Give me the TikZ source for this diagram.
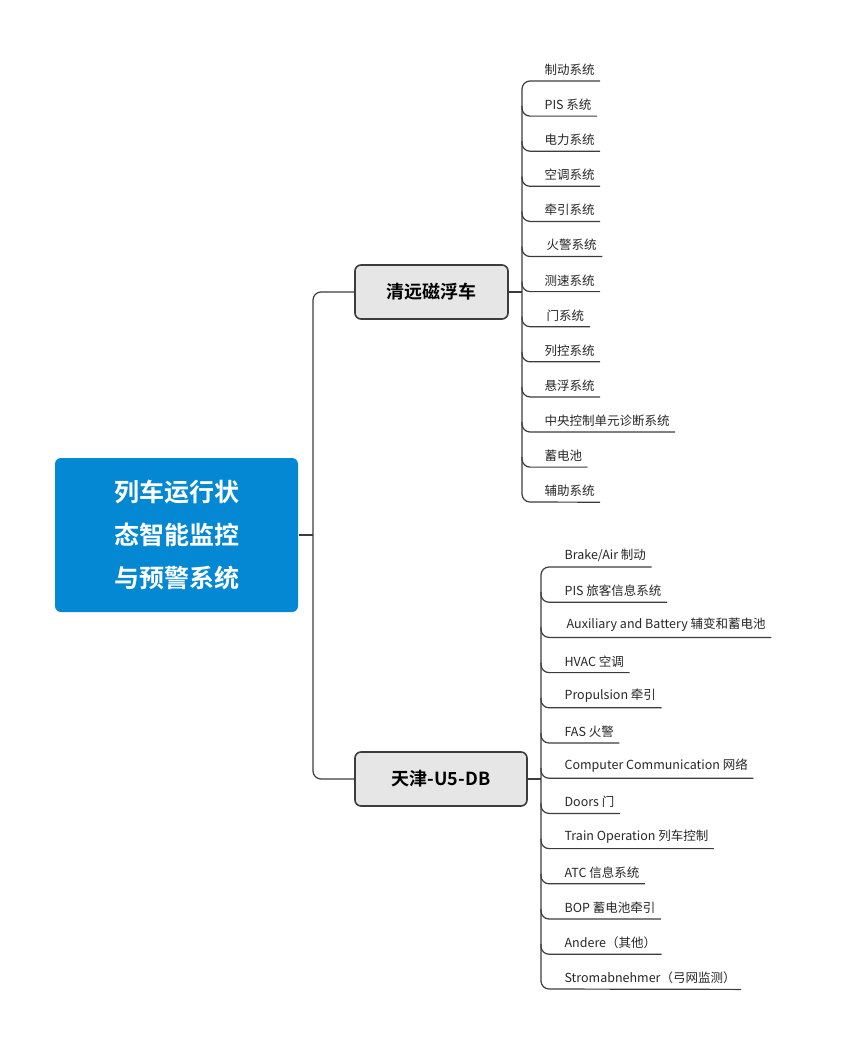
\documentclass[tikz,border=0pt]{standalone}
\usepackage{fontspec}
\setmainfont{Noto Sans CJK SC}[BoldFont=Noto Sans CJK SC Bold]
\usetikzlibrary{calc}
\definecolor{rootblue}{RGB}{4,136,212}
\definecolor{branchgray}{RGB}{230,230,230}
\definecolor{linegray}{RGB}{60,60,60}
\begin{document}
\begin{tikzpicture}[x=1pt,y=-1pt,line width=1.2pt,
  root/.style={rectangle,rounded corners=6,fill=rootblue,text=white,font=\fontsize{25}{43}\selectfont\bfseries,
    align=center,minimum width=243,minimum height=154},
  branch/.style={rectangle,rounded corners=6,draw=linegray,line width=1.6pt,fill=branchgray,
    font=\fontsize{18}{20}\selectfont\bfseries,minimum height=54,inner xsep=10},
  leaf/.style={anchor=south west,inner xsep=0,inner ysep=5,font=\fontsize{12.5}{14}\selectfont,text=black!85},
  conn/.style={draw=linegray,line width=1.2pt,rounded corners=8}]

\useasboundingbox (0,0) rectangle (866,1045);

%
% Root and branches
%
\node[root] (root) at (176.5,535) {列车运行状\\态智能监控\\与预警系统};
\node[branch,minimum width=153] (qy) at (431.5,292) {清远磁浮车};
\node[branch,minimum width=172] (tj) at (441,779) {天津-U5-DB};

\coordinate (hub) at (313,535);
\draw[conn] (root.east) -- (hub);
\draw[conn] (hub) |- (qy.west);
\draw[conn] (hub) |- (tj.west);

%
% Leaves of the first branch
%
\foreach \t [count=\i] in {制动系统,PIS 系统,电力系统,空调系统,牵引系统,\,火警系统,测速系统,\,门系统,列控系统,悬浮系统,中央控制单元诊断系统,蓄电池,辅助系统}
  \node[leaf] (a\i) at (544,{81+35.1*(\i-1)}) {\t};
\draw[conn] ($(a1.south east)+(5,0)$) -- (522,81) -- (522,502) -- ($(a13.south east)+(5,0)$);
\foreach \i in {2,...,12}
  \draw[conn] (522,{81+35.1*(\i-1)-10}) -- (522,{81+35.1*(\i-1)}) -- ($(a\i.south east)+(5,0)$);
\draw[conn] (qy.east) -- (522,292);

%
% Leaves of the second branch
%
\foreach \t [count=\i] in {Brake/Air 制动,PIS 旅客信息系统,\,Auxiliary and Battery 辅变和蓄电池,HVAC 空调,Propulsion 牵引,FAS 火警,Computer Communication 网络,Doors 门,Train Operation 列车控制,ATC 信息系统,BOP 蓄电池牵引,Andere（其他）,Stromabnehmer（弓网监测）}
  \node[leaf] (b\i) at (564,{567+35.2*(\i-1)}) {\t};
\draw[conn] ($(b1.south east)+(5,0)$) -- (541,567) -- (541,989) -- ($(b13.south east)+(5,0)$);
\foreach \i in {2,...,12}
  \draw[conn] (541,{567+35.2*(\i-1)-10}) -- (541,{567+35.2*(\i-1)}) -- ($(b\i.south east)+(5,0)$);
\draw[conn] (tj.east) -- (541,779);

\end{tikzpicture}
\end{document}
